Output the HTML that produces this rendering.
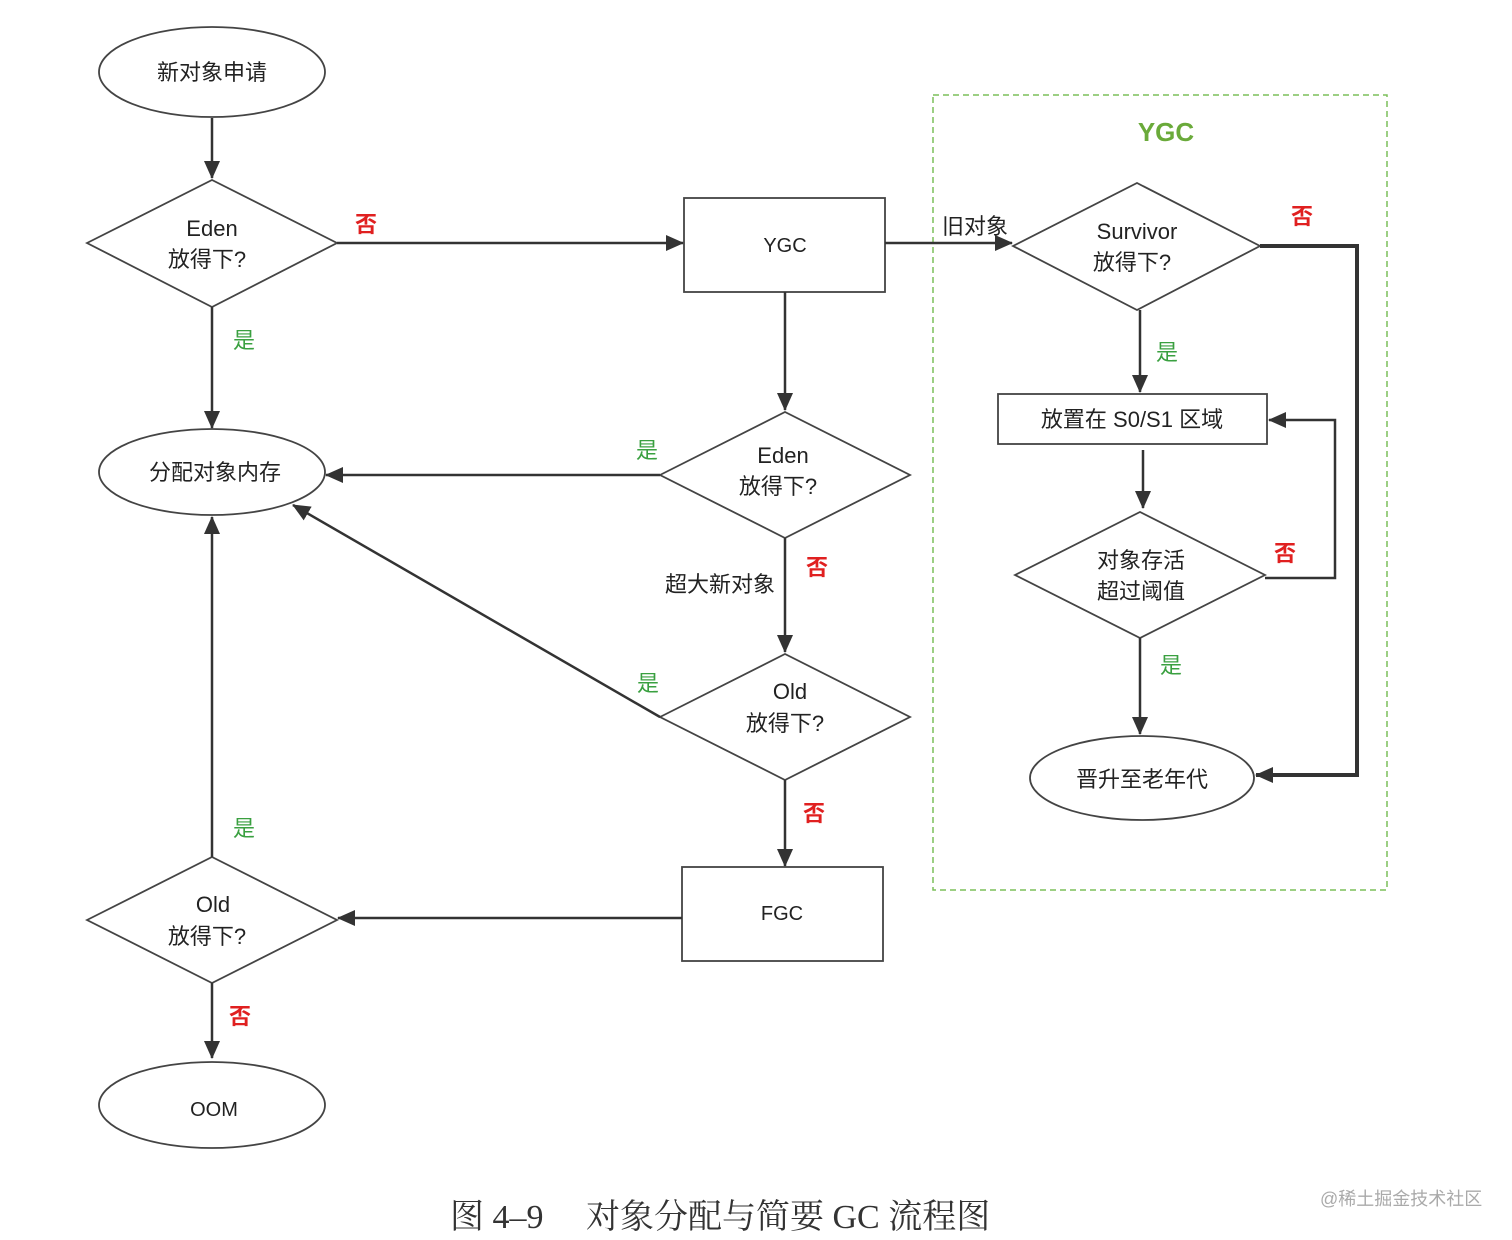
<!DOCTYPE html>
<html><head><meta charset="utf-8"><style>
html,body{margin:0;padding:0;background:#fff;}
svg{display:block;}
text{font-family:"Liberation Sans","Noto Sans CJK SC",sans-serif;}
.t{font-size:22px;fill:#222;text-anchor:middle;}
.r{font-size:22px;fill:#e02020;font-weight:bold;text-anchor:middle;}
.g{font-size:22px;fill:#3aa040;text-anchor:middle;}
</style></head><body>
<svg width="1512" height="1240" viewBox="0 0 1512 1240" xmlns="http://www.w3.org/2000/svg">
<defs>
<marker id="a" markerWidth="10" markerHeight="10" refX="9" refY="5" orient="auto" markerUnits="userSpaceOnUse" viewBox="0 0 10 10"><path d="M0,0 L10,5 L0,10 z" fill="#333"/></marker>
<marker id="b" markerWidth="18" markerHeight="18" refX="17" refY="9" orient="auto" markerUnits="userSpaceOnUse" viewBox="0 0 18 18"><path d="M0,1 L18,9 L0,17 z" fill="#333"/></marker>
</defs>
<g fill="#fff" stroke="#444" stroke-width="1.8">
<ellipse cx="212" cy="72" rx="113" ry="45"/>
<polygon points="87,243 212,180 337,243 212,307"/>
<rect x="684" y="198" width="201" height="94"/>
<ellipse cx="212" cy="472" rx="113" ry="43"/>
<polygon points="660,475 785,412 910,475 785,538"/>
<polygon points="660,717 785,654 910,717 785,780"/>
<rect x="682" y="867" width="201" height="94"/>
<polygon points="87,920 212,857 337,920 212,983"/>
<ellipse cx="212" cy="1105" rx="113" ry="43"/>
<polygon points="1013,246 1137,183 1260,246 1137,310"/>
<rect x="998" y="394" width="269" height="50"/>
<polygon points="1015,575 1140,512 1265,575 1140,638"/>
<ellipse cx="1142" cy="778" rx="112" ry="42"/>
</g>
<rect x="933" y="95" width="454" height="795" fill="none" stroke="#7cbf5a" stroke-width="1.5" stroke-dasharray="6,4"/>
<g stroke="#333" stroke-width="2.5" fill="none">
<line x1="212" y1="118" x2="212" y2="178" marker-end="url(#b)"/>
<line x1="337" y1="243" x2="683" y2="243" marker-end="url(#b)"/>
<line x1="212" y1="307" x2="212" y2="428" marker-end="url(#b)"/>
<line x1="885" y1="243" x2="1012" y2="243" marker-end="url(#b)"/>
<line x1="785" y1="292" x2="785" y2="410" marker-end="url(#b)"/>
<line x1="660" y1="475" x2="326" y2="475" marker-end="url(#b)"/>
<line x1="785" y1="538" x2="785" y2="652" marker-end="url(#b)"/>
<line x1="660" y1="717" x2="293" y2="505" marker-end="url(#b)"/>
<line x1="785" y1="780" x2="785" y2="866" marker-end="url(#b)"/>
<line x1="682" y1="918" x2="338" y2="918" marker-end="url(#b)"/>
<line x1="212" y1="857" x2="212" y2="517" marker-end="url(#b)"/>
<line x1="212" y1="983" x2="212" y2="1058" marker-end="url(#b)"/>
<line x1="1140" y1="310" x2="1140" y2="392" marker-end="url(#b)"/>
<line x1="1143" y1="450" x2="1143" y2="508" marker-end="url(#b)"/>
<line x1="1140" y1="638" x2="1140" y2="734" marker-end="url(#b)"/>
<polyline points="1265,578 1335,578 1335,420 1269,420" marker-end="url(#b)"/>
<polyline points="1260,246 1357,246 1357,775 1256,775" stroke-width="4" marker-end="url(#b)"/>
</g>
<text class="t" x="212" y="80">新对象申请</text>
<text class="t" x="212" y="236">Eden</text><text class="t" x="207" y="267">放得下?</text>
<text class="t" x="785" y="252" style="font-size:20px">YGC</text>
<text class="t" x="215" y="480">分配对象内存</text>
<text class="t" x="783" y="463">Eden</text><text class="t" x="778" y="494">放得下?</text>
<text class="t" x="790" y="699">Old</text><text class="t" x="785" y="731">放得下?</text>
<text class="t" x="782" y="920" style="font-size:20px">FGC</text>
<text class="t" x="213" y="912">Old</text><text class="t" x="207" y="944">放得下?</text>
<text class="t" x="214" y="1116" style="font-size:20px">OOM</text>
<text class="t" x="1137" y="239">Survivor</text><text class="t" x="1132" y="270">放得下?</text>
<text class="t" x="1132" y="427">放置在 S0/S1 区域</text>
<text class="t" x="1141" y="568">对象存活</text><text class="t" x="1141" y="599">超过阈值</text>
<text class="t" x="1142" y="787">晋升至老年代</text>
<text class="t" x="975" y="234">旧对象</text>
<text class="t" x="720" y="592">超大新对象</text>
<text x="1166" y="141" style="font-size:26px;font-weight:bold;fill:#6aaa3a;text-anchor:middle">YGC</text>
<text class="r" x="366" y="232">否</text>
<text class="g" x="244" y="348">是</text>
<text class="g" x="647" y="458">是</text>
<text class="r" x="817" y="575">否</text>
<text class="g" x="648" y="691">是</text>
<text class="r" x="814" y="821">否</text>
<text class="g" x="244" y="836">是</text>
<text class="r" x="240" y="1024">否</text>
<text class="r" x="1302" y="224">否</text>
<text class="g" x="1167" y="360">是</text>
<text class="r" x="1285" y="561">否</text>
<text class="g" x="1171" y="673">是</text>
<text x="450" y="1228" style="font-family:'Liberation Serif','Noto Serif CJK SC',serif;font-size:34px;fill:#333">图 4–9　 对象分配与简要 GC 流程图</text>
<text x="1320" y="1205" style="font-size:18px;fill:#aaa">@稀土掘金技术社区</text>
</svg>
</body></html>
